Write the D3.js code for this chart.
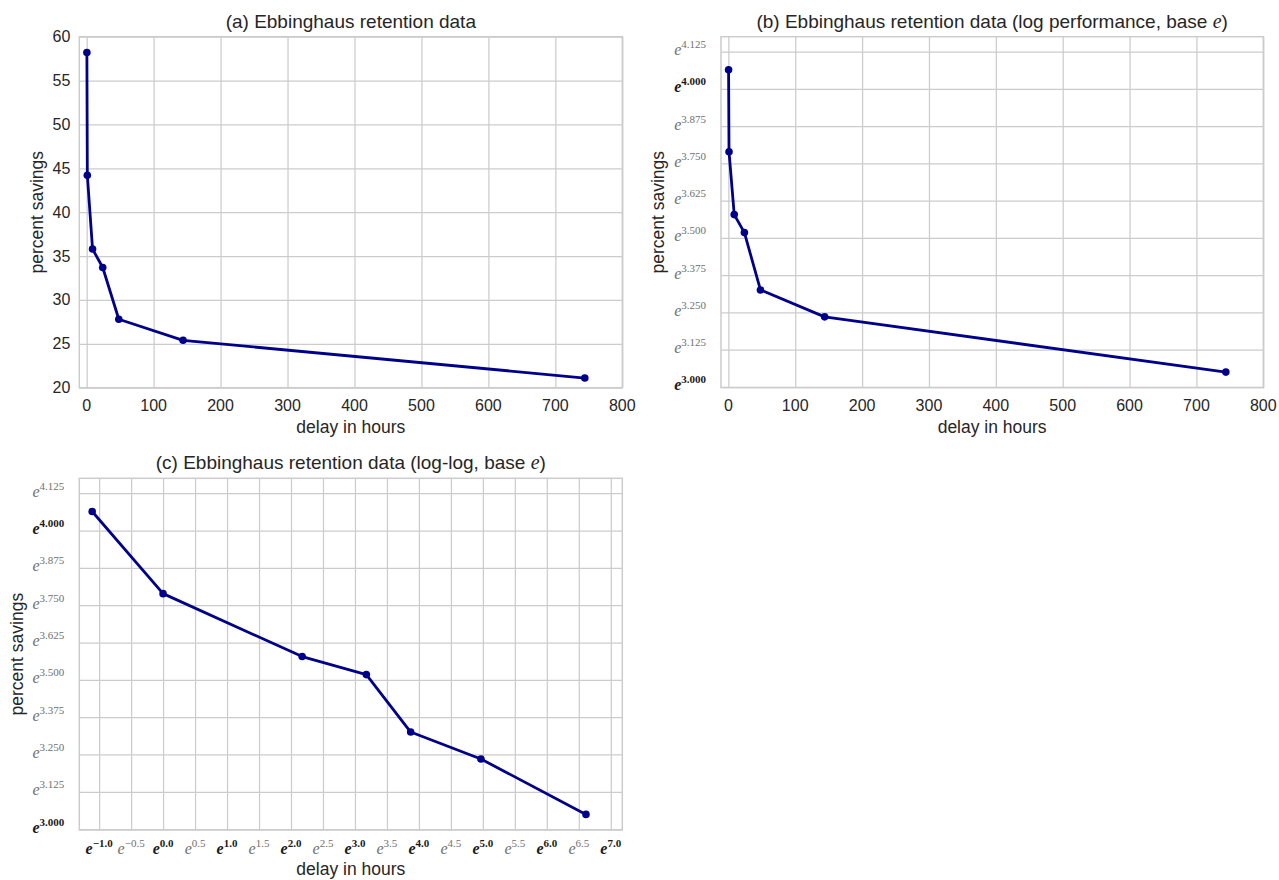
<!DOCTYPE html>
<html>
<head>
<meta charset="utf-8">
<script src="https://cdn.jsdelivr.net/npm/d3@7"></script>
<style>
body { margin: 0; background: #fff; }
svg text { font-family: "Liberation Sans", Arial, sans-serif; fill: #262626; }
.grid line { stroke: #cccccc; stroke-width: 1.25; }
.grid path { display: none; }
.math { font-family: "Liberation Serif", "DejaVu Serif", serif; }
</style>
</head>
<body>
<svg id="chart" width="1279" height="880"></svg>
<script>
// Ebbinghaus savings data
const delayHours = [0.33, 1, 8.8, 24, 48, 144, 744];
const percentSavings = [58.2, 44.2, 35.8, 33.7, 27.8, 25.4, 21.1];

// tick values
const linearXTicks = [0, 100, 200, 300, 400, 500, 600, 700, 800];
const linearYTicks = [20, 25, 30, 35, 40, 45, 50, 55, 60];
const logYExponents = [3.0, 3.125, 3.25, 3.375, 3.5, 3.625, 3.75, 3.875, 4.0, 4.125];
const logXExponents = [-1.0, -0.5, 0.0, 0.5, 1.0, 1.5, 2.0, 2.5, 3.0, 3.5, 4.0, 4.5, 5.0, 5.5, 6.0, 6.5, 7.0];

const data = delayHours.map((d, i) => ({ delay: d, savings: percentSavings[i] }));

const svg = d3.select("#chart");
const lineColor = "#00008b";

const panels = [
    {
        title: [{ t: "(a) Ebbinghaus retention data" }],
        left: 79.3, top: 36.7, width: 543, height: 351,
        x: d3.scaleLinear().domain([-11, 800]),
        y: d3.scaleLinear().domain([20, 60]),
        xTicks: linearXTicks, yTicks: linearYTicks,
        xLog: false, yLog: false, yLabelX: -42
    },
    {
        title: [{ t: "(b) Ebbinghaus retention data (log performance, base " }, { t: "e", math: true }, { t: ")" }],
        left: 721, top: 36.7, width: 542.3, height: 351,
        x: d3.scaleLinear().domain([-11, 800]),
        y: d3.scaleLog().base(Math.E).domain([Math.exp(2.997), Math.exp(4.175)]),
        xTicks: linearXTicks, yTicks: logYExponents,
        xLog: false, yLog: true, yLabelX: -63
    },
    {
        title: [{ t: "(c) Ebbinghaus retention data (log-log, base " }, { t: "e", math: true }, { t: ")" }],
        left: 79.3, top: 478.3, width: 543, height: 351.7,
        x: d3.scaleLog().base(Math.E).domain([Math.exp(-1.31), Math.exp(7.18)]),
        y: d3.scaleLog().base(Math.E).domain([Math.exp(2.997), Math.exp(4.175)]),
        xTicks: logXExponents, yTicks: logYExponents,
        xLog: true, yLog: true, yLabelX: -62
    }
];

function expLabel(sel, exponent, digits, anchor) {
    const major = Number.isInteger(exponent);
    const txt = exponent.toFixed(digits).replace("-", "\u2212");
    const t = sel.append("text")
        .attr("class", "math")
        .attr("text-anchor", anchor)
        .style("fill", major ? "#1a1a1a" : "#707070")
        .style("font-weight", major ? "bold" : "normal");
    t.append("tspan").attr("font-style", "italic").attr("font-size", 16).text("e");
    t.append("tspan").attr("font-size", 11).attr("dy", -7).text(txt);
    return t;
}

panels.forEach(p => {
    const g = svg.append("g").attr("transform", `translate(${p.left},${p.top})`);
    p.x.range([0, p.width]);
    p.y.range([p.height, 0]);

    const xVals = p.xLog ? p.xTicks.map(Math.exp) : p.xTicks;
    const yVals = p.yLog ? p.yTicks.map(Math.exp) : p.yTicks;

    // grid lines
    g.append("g").attr("class", "grid")
        .attr("transform", `translate(0,${p.height})`)
        .call(d3.axisBottom(p.x).tickValues(xVals).tickSize(-p.height).tickFormat(""));
    g.append("g").attr("class", "grid")
        .call(d3.axisLeft(p.y).tickValues(yVals).tickSize(-p.width).tickFormat(""));

    // frame
    g.append("rect")
        .attr("width", p.width).attr("height", p.height)
        .attr("fill", "none").attr("stroke", "#cccccc").attr("stroke-width", 1.5);

    // x tick labels
    if (p.xLog) {
        p.xTicks.forEach(e => {
            expLabel(g, e, 1, "middle")
                .attr("transform", `translate(${p.x(Math.exp(e))},${p.height + 23.5})`);
        });
    } else {
        g.selectAll(".xt").data(p.xTicks).enter().append("text")
            .attr("x", d => p.x(d)).attr("y", p.height + 23)
            .attr("text-anchor", "middle").attr("font-size", 16)
            .text(d => d);
    }

    // y tick labels
    if (p.yLog) {
        p.yTicks.forEach(e => {
            expLabel(g, e, 3, "end")
                .attr("transform", `translate(-15,${p.y(Math.exp(e)) + 3.5})`);
        });
    } else {
        g.selectAll(".yt").data(p.yTicks).enter().append("text")
            .attr("x", -9).attr("y", d => p.y(d) + 5.5)
            .attr("text-anchor", "end").attr("font-size", 16)
            .text(d => d);
    }

    // title
    const title = g.append("text")
        .attr("x", p.width / 2).attr("y", -9)
        .attr("text-anchor", "middle").attr("font-size", 19);
    p.title.forEach(part => {
        const s = title.append("tspan").text(part.t);
        if (part.math) s.attr("class", "math").attr("font-style", "italic").attr("font-size", 20);
    });

    // axis labels
    g.append("text")
        .attr("x", p.width / 2).attr("y", p.height + 45)
        .attr("text-anchor", "middle").attr("font-size", 17.5)
        .text("delay in hours");
    g.append("text")
        .attr("transform", `translate(${p.yLabelX},${p.height / 2}) rotate(-90)`)
        .attr("text-anchor", "middle").attr("dy", "0.35em").attr("font-size", 17.5)
        .text("percent savings");

    // data line and points
    const line = d3.line()
        .x(d => p.x(d.delay))
        .y(d => p.y(d.savings));
    g.append("path").datum(data)
        .attr("fill", "none").attr("stroke", lineColor)
        .attr("stroke-width", 2.8).attr("stroke-linejoin", "round")
        .attr("d", line);
    g.selectAll(".pt").data(data).enter().append("circle")
        .attr("cx", d => p.x(d.delay)).attr("cy", d => p.y(d.savings))
        .attr("r", 3.8).attr("fill", lineColor);
});
</script>
</body>
</html>
